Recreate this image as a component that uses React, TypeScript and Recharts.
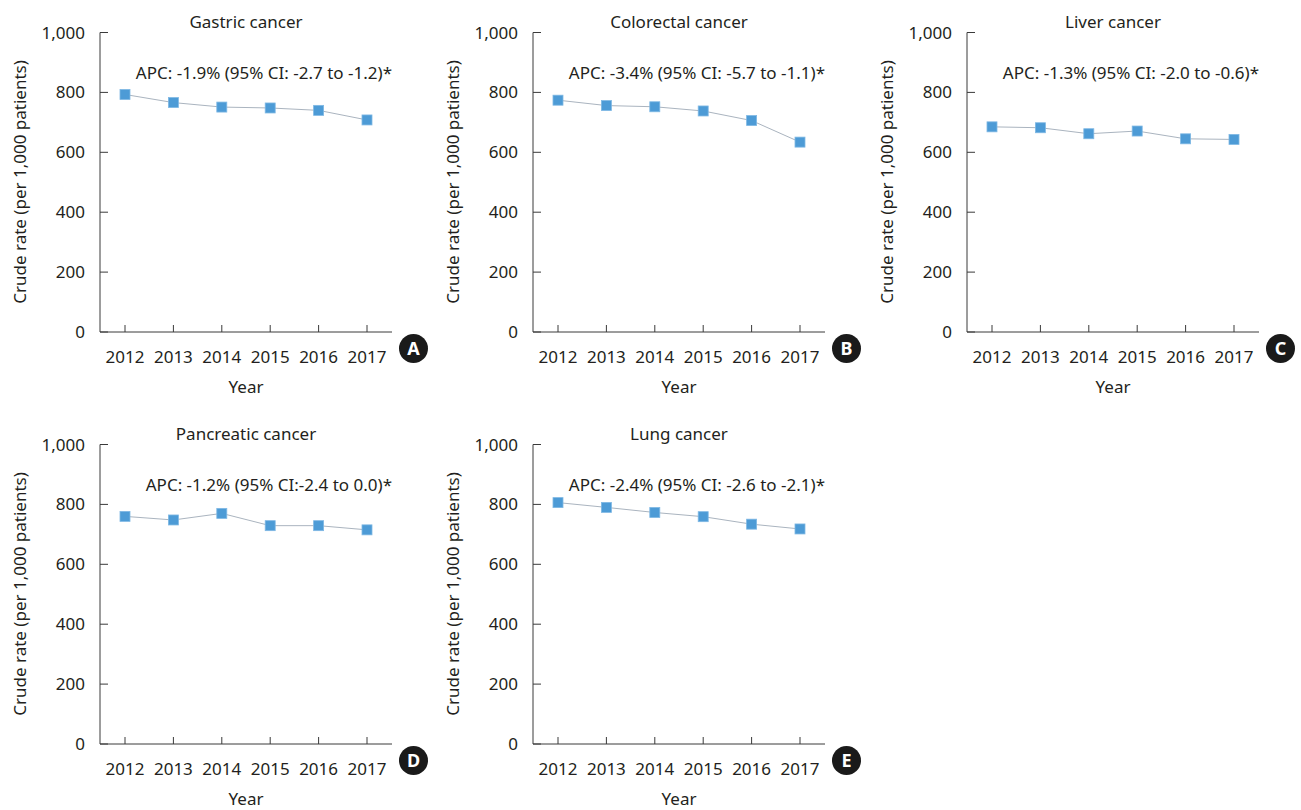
import { LineChart, Line, XAxis, YAxis } from 'recharts';

const years = ['2012', '2013', '2014', '2015', '2016', '2017'];
const yTicks = [0, 200, 400, 600, 800, 1000];

const gastric = [793, 766, 751, 748, 740, 708];
const colorectal = [774, 756, 752, 738, 706, 634];
const liver = [685, 682, 662, 671, 645, 643];
const pancreatic = [760, 748, 770, 729, 729, 715];
const lung = [806, 790, 773, 759, 734, 718];

const titles = ['Gastric cancer', 'Colorectal cancer', 'Liver cancer', 'Pancreatic cancer', 'Lung cancer'];
const apcLabels = [
  'APC: -1.9% (95% CI: -2.7 to -1.2)*',
  'APC: -3.4% (95% CI: -5.7 to -1.1)*',
  'APC: -1.3% (95% CI: -2.0 to -0.6)*',
  'APC: -1.2% (95% CI:-2.4 to 0.0)*',
  'APC: -2.4% (95% CI: -2.6 to -2.1)*',
];
const panelLetters = ['A', 'B', 'C', 'D', 'E'];

const FONT = '"Noto Sans", sans-serif';
const TEXT = '#231f20';
const AXIS = '#3a3a3a';

const XTick = ({ x, y, payload }: any) => (
  <g>
    <line x1={x} y1={y} x2={x} y2={y - 7} stroke={AXIS} strokeWidth={1} />
    <text x={x} y={y + 31} textAnchor="middle" fontSize={17} fontFamily={FONT} fill={TEXT}>
      {payload.value}
    </text>
  </g>
);

const YTick = ({ x, y, payload }: any) => (
  <g>
    <line x1={x} y1={y} x2={x + 8} y2={y} stroke={AXIS} strokeWidth={1} />
    <text x={x - 15} y={y + 6} textAnchor="end" fontSize={17} fontFamily={FONT} fill={TEXT}>
      {payload.value === 1000 ? '1,000' : payload.value}
    </text>
  </g>
);

const Square = ({ cx, cy }: any) => (
  <rect x={cx - 5} y={cy - 5} width={10} height={10} fill="#4d9bd6" stroke="#7fb8e4" strokeWidth={0.8} />
);

const Panel = ({ values, idx }: { values: number[]; idx: number }) => {
  const data = years.map((year, i) => ({ year, value: values[i] }));
  return (
    <LineChart width={430} height={400} data={data} margin={{ top: 32.5, right: 38, bottom: 38, left: 10 }}>
      <XAxis
        dataKey="year"
        height={30}
        stroke={AXIS}
        tickLine={false}
        tickSize={0}
        tickMargin={0}
        padding={{ left: 25, right: 25 }}
        tick={<XTick />}
        interval={0}
      />
      <YAxis
        width={90}
        domain={[0, 1000]}
        ticks={yTicks}
        stroke={AXIS}
        tickLine={false}
        tickSize={0}
        tickMargin={0}
        tick={<YTick />}
      />
      <Line
        type="linear"
        dataKey="value"
        stroke="#aab4bf"
        strokeWidth={1}
        dot={<Square />}
        activeDot={false}
        isAnimationActive={false}
      />
      <text x={246} y={28} textAnchor="middle" fontSize={17} fontFamily={FONT} fill={TEXT}>
        {titles[idx]}
      </text>
      <text x={392} y={79} textAnchor="end" fontSize={17} fontFamily={FONT} fill={TEXT}>
        {apcLabels[idx]}
      </text>
      <text x={246} y={393} textAnchor="middle" fontSize={17} fontFamily={FONT} fill={TEXT}>
        Year
      </text>
      <text
        x={0}
        y={0}
        transform="translate(26,182) rotate(-90)"
        textAnchor="middle"
        fontSize={17}
        fontFamily={FONT}
        fill={TEXT}
      >
        Crude rate (per 1,000 patients)
      </text>
      <circle cx={413.5} cy={348.5} r={14.5} fill="#1a1a1a" />
      <text x={413.5} y={355} textAnchor="middle" fontSize={18} fontWeight="bold" fontFamily={FONT} fill="#fff">
        {panelLetters[idx]}
      </text>
    </LineChart>
  );
};

const series = [gastric, colorectal, liver, pancreatic, lung];
const offsets = [
  [0, 0],
  [433.3, 0],
  [866.7, 0],
  [0, 412],
  [433.3, 412],
];

export default function App() {
  return (
    <div style={{ position: 'absolute', left: 0, top: 0, width: 1301, height: 810, background: '#fff' }}>
      {series.map((values, i) => (
        <div key={i} style={{ position: 'absolute', left: offsets[i][0], top: offsets[i][1] }}>
          <Panel values={values} idx={i} />
        </div>
      ))}
    </div>
  );
}
